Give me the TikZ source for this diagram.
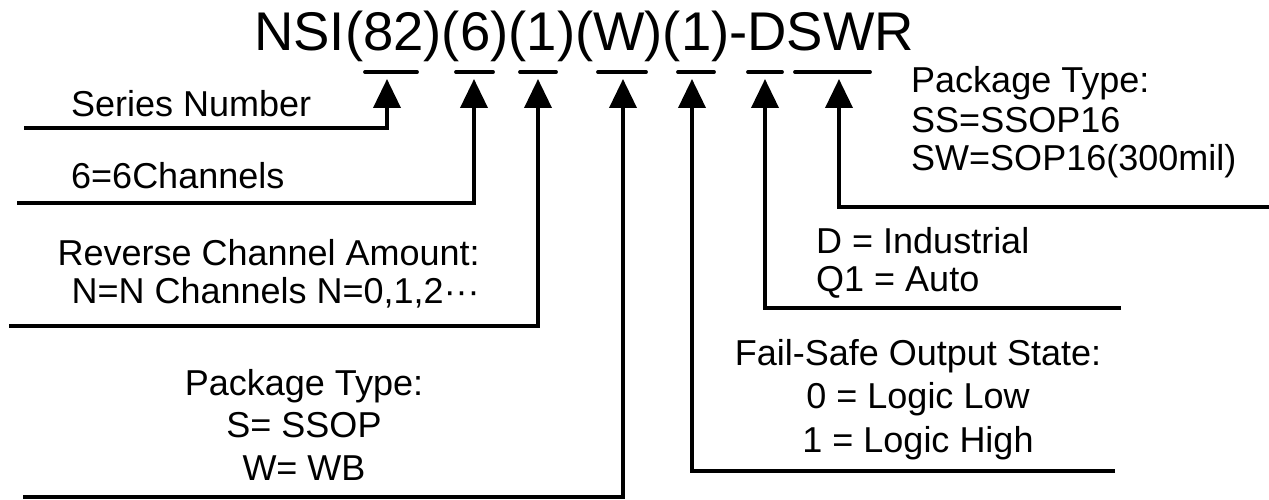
\documentclass[tikz,border=0pt]{standalone}
\usepackage{fontspec}
\setmainfont{Liberation Sans}
\usetikzlibrary{arrows.meta}
\tikzset{
  lab/.style={inner sep=0pt, font=\fontsize{36}{40}\selectfont},
  ttl/.style={inner sep=0pt, font=\fontsize{54.5}{60}\selectfont},
  bar/.style={line width=3.8pt, line cap=round},
  conn/.style={line width=3.8pt, line join=miter, -{Triangle[length=29pt,width=27pt]}},
}
\begin{document}
\begin{tikzpicture}[x=1pt,y=-1pt]
\useasboundingbox (0,0) rectangle (1269,500);
\fill[white] (0,0) rectangle (1269,500);

% title
\node[ttl, anchor=base west] (title) at (254,51) {NSI(82)(6)(1)(W)(1)-DSWR};

% underline bars
\draw[bar] (365,72) -- (417,72);
\draw[bar] (456,72) -- (493,72);
\draw[bar] (520,72) -- (556,72);
\draw[bar] (598,72) -- (646,72);
\draw[bar] (678,72) -- (714,72);
\draw[bar] (748,72) -- (782,72);
\draw[bar] (795,72) -- (870,72);

% arrow tips (under bars)
\coordinate (t1) at (387,79);
\coordinate (t2) at (474,79);
\coordinate (t3) at (538,79);
\coordinate (t4) at (623,79);
\coordinate (t5) at (692,79);
\coordinate (t6) at (765,79);
\coordinate (t7) at (839,79);

% free ends of leader lines
\coordinate (e1) at (24,128);
\coordinate (e2) at (17,203);
\coordinate (e3) at (9,326);
\coordinate (e4) at (23,497);
\coordinate (e5) at (1115,471);
\coordinate (e6) at (1121,308);
\coordinate (e7) at (1269,207);

\draw[conn] (e1) -- (e1 -| t1) -- (t1);
\draw[conn] (e2) -- (e2 -| t2) -- (t2);
\draw[conn] (e3) -- (e3 -| t3) -- (t3);
\draw[conn] (e4) -- (e4 -| t4) -- (t4);
\draw[conn] (e5) -- (e5 -| t5) -- (t5);
\draw[conn] (e6) -- (e6 -| t6) -- (t6);
\draw[conn] (e7) -- (e7 -| t7) -- (t7);

% labels
\node[lab, anchor=base west] (ser) at (71,117) {Series Number};
\node[lab, anchor=base west] (ch) at (71,188) {6=6Channels};
\node[lab, anchor=base east] (rev1) at (480,265) {Reverse Channel Amount:};
\node[lab, anchor=base east] (rev2) at (480,303) {N=N Channels N=0,1,2···};

\node[lab, anchor=base] (pk1) at (304,395) {Package Type:};
\node[lab, anchor=base] (pk2) at (304,437) {S= SSOP};
\node[lab, anchor=base] (pk3) at (304,480) {W= WB};

\node[lab, anchor=base] (fs1) at (918,365) {Fail-Safe Output State:};
\node[lab, anchor=base] (fs2) at (918,408) {0 = Logic Low};
\node[lab, anchor=base] (fs3) at (918,452) {1 = Logic High};

\node[lab, anchor=base west] (gr1) at (816,253) {D = Industrial};
\node[lab, anchor=base west] (gr2) at (816,291) {Q1 = Auto};

\node[lab, anchor=base west] (pr1) at (911,93) {Package Type:};
\node[lab, anchor=base west] (pr2) at (911,132) {SS=SSOP16};
\node[lab, anchor=base west] (pr3) at (911,171) {SW=SOP16(300mil)};
\end{tikzpicture}
\end{document}
